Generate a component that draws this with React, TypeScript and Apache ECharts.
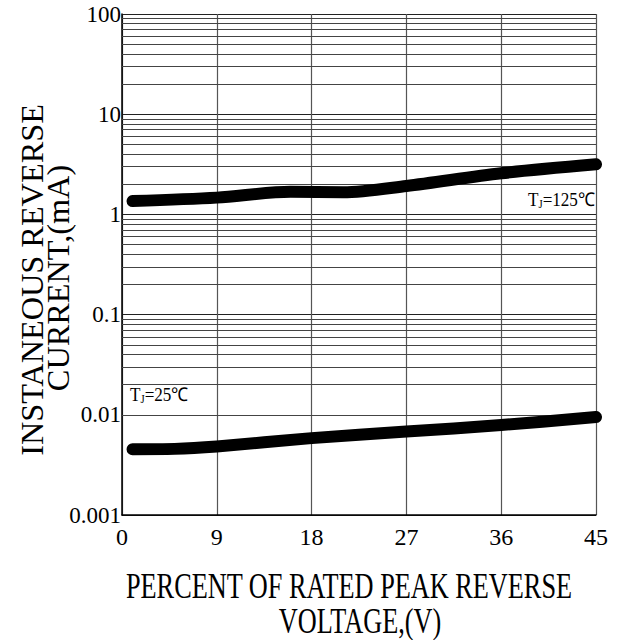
import React, { useEffect, useRef } from "react";
import * as echarts from "echarts";

// Percent of rated peak reverse voltage
const xTicks = [0, 9, 18, 27, 36, 45];
// Tj = 125 °C curve
const hotX = [1, 9, 16, 21, 27, 36, 45];
const hotY = [1.36, 1.47, 1.68, 1.66, 1.92, 2.57, 3.16];
// Tj = 25 °C curve
const coldX = [1, 5, 9, 18, 27, 36, 45];
const coldY = [0.00454, 0.00457, 0.00482, 0.00585, 0.0068, 0.0079, 0.0095];
// minor gridlines of the log axis
const decades = [0.001, 0.01, 0.1, 1, 10];
const mantissas = [2, 3, 4, 5, 6, 7, 8, 9];

const FAMILY = "Liberation Serif";
const FONT = "Liberation Serif, serif";

export default function App() {
  const ref = useRef<HTMLDivElement>(null);
  useEffect(() => {
    if (!ref.current) return;
    const chart = echarts.init(ref.current, null, { renderer: "svg" });
    const minor: number[] = [];
    decades.forEach((d) => mantissas.forEach((m) => minor.push(Number((d * m).toPrecision(6)))));
    const rich = {
      t: { fontFamily: FAMILY, fontSize: 19, fill: "#000", color: "#000" },
      s: { fontFamily: FAMILY, fontSize: 12, fill: "#000", color: "#000", padding: [7, 0, 0, 0] },
    };
    chart.setOption({
      animation: false,
      backgroundColor: "#fff",
      textStyle: { fontFamily: FAMILY },
      grid: { left: 122, right: 44, top: 14, bottom: 125, containLabel: false },
      xAxis: {
        type: "value",
        min: xTicks[0],
        max: xTicks[xTicks.length - 1],
        interval: 9,
        axisLine: { show: true, onZero: false, lineStyle: { color: "#000", width: 1.5 } },
        axisTick: { show: false },
        axisLabel: { color: "#000", fontFamily: FAMILY, fontSize: 24, margin: 10 },
        splitLine: { show: true, lineStyle: { color: "#555", width: 1.2 } },
      },
      yAxis: {
        type: "log",
        logBase: 10,
        min: 0.001,
        max: 100,
        axisLine: { show: true, lineStyle: { color: "#000", width: 1.5 } },
        axisTick: { show: false },
        axisLabel: {
          color: "#000",
          fontFamily: FAMILY,
          fontSize: 23,
          margin: 1,
          formatter: (v: number) => String(Number(v.toPrecision(6))),
        },
        splitLine: { show: true, lineStyle: { color: "#222", width: 1.2 } },
      },
      series: [
        {
          type: "line",
          data: hotX.map((x, i) => [x, hotY[i]]),
          smooth: 0.3,
          showSymbol: false,
          symbol: "none",
          lineStyle: { color: "#000", width: 12, cap: "round", join: "round" },
          z: 5,
          markLine: {
            silent: true,
            symbol: "none",
            label: { show: false },
            animation: false,
            lineStyle: { color: "#444", width: 1.1, type: "solid" },
            data: minor.map((v) => ({ yAxis: v })),
            z: 1,
          },
        },
        {
          type: "line",
          data: coldX.map((x, i) => [x, coldY[i]]),
          smooth: 0.3,
          showSymbol: false,
          symbol: "none",
          lineStyle: { color: "#000", width: 12, cap: "round", join: "round" },
          z: 5,
        },
      ],
      graphic: [
        {
          type: "text",
          x: 528,
          y: 200,
          z: 10,
          scaleX: 0.9,
          style: { text: "{t|T}{s|J}{t|=125℃}", rich, textVerticalAlign: "middle", fill: "#000" },
        },
        {
          type: "text",
          x: 130,
          y: 395,
          z: 10,
          scaleX: 0.9,
          style: { text: "{t|T}{s|J}{t|=25℃}", rich, textVerticalAlign: "middle", fill: "#000" },
        },
        {
          type: "text",
          x: 33,
          y: 280,
          rotation: Math.PI / 2,
          scaleX: 0.95,
          scaleY: 0.9,
          style: {
            text: "INSTANEOUS REVERSE",
            font: `34px ${FONT}`,
            fill: "#000",
            textAlign: "center",
            textVerticalAlign: "middle",
          },
        },
        {
          type: "text",
          x: 59,
          y: 278,
          rotation: Math.PI / 2,
          scaleX: 0.95,
          scaleY: 0.9,
          style: {
            text: "CURRENT,(mA)",
            font: `34px ${FONT}`,
            fill: "#000",
            textAlign: "center",
            textVerticalAlign: "middle",
          },
        },
        {
          type: "text",
          x: 349,
          y: 586,
          scaleX: 0.73,
          style: {
            text: "PERCENT OF RATED PEAK REVERSE",
            font: `36px ${FONT}`,
            fill: "#000",
            textAlign: "center",
            textVerticalAlign: "middle",
          },
        },
        {
          type: "text",
          x: 360,
          y: 621,
          scaleX: 0.73,
          style: {
            text: "VOLTAGE,(V)",
            font: `36px ${FONT}`,
            fill: "#000",
            textAlign: "center",
            textVerticalAlign: "middle",
          },
        },
      ],
    });
    return () => chart.dispose();
  }, []);
  return (
    <div
      ref={ref}
      style={{ position: "fixed", left: 0, top: 0, width: 640, height: 640, background: "#fff" }}
    />
  );
}
